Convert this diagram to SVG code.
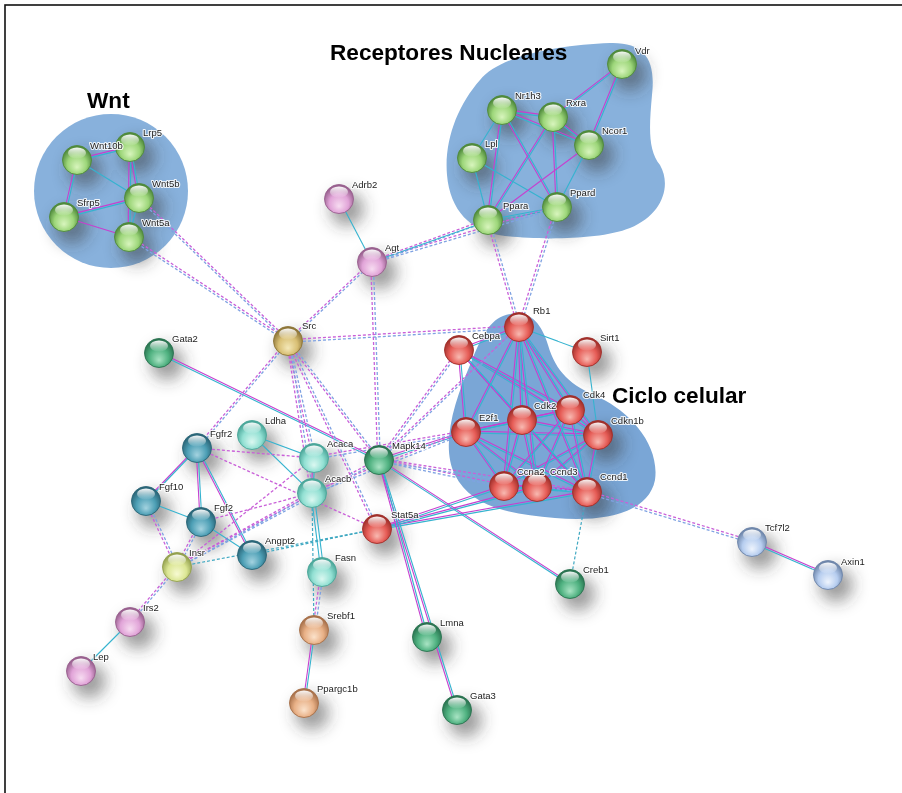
<svg xmlns="http://www.w3.org/2000/svg" width="902" height="793" viewBox="0 0 902 793">
<style>
  .lbl{font-family:"Liberation Sans",Arial,sans-serif;font-size:9.5px;fill:#222;stroke:#fff;stroke-width:2.2px;stroke-opacity:.85;paint-order:stroke;stroke-linejoin:round}
  .title{font-family:"Liberation Sans",Arial,sans-serif;font-size:22.6px;font-weight:bold;fill:#000}
  .ball{stroke-width:.9}
  .shine{fill:url(#shine)}
  .sh{fill:#3a3a3a;opacity:.5}
  .blob{fill:#88b1dc}
  .mg{stroke:#c640cf;stroke-width:1.1;fill:none}
  .cy{stroke:#35b3cf;stroke-width:1.1;fill:none}
  .dm{stroke:#c960d8;stroke-width:1.3;stroke-dasharray:3 2;fill:none}
  .db{stroke:#7fa2e2;stroke-width:1.3;stroke-dasharray:3 2;fill:none}
  .dt{stroke:#41a9c2;stroke-width:1.2;stroke-dasharray:3 2;fill:none}
</style>
<defs>
  <filter id="soft" x="-1" y="-1" width="3" height="3"><feGaussianBlur stdDeviation="8"/></filter>
  <linearGradient id="shine" x1="0" y1="0" x2="0" y2="1">
    <stop offset="0" stop-color="#fff" stop-opacity=".95"/>
    <stop offset="1" stop-color="#fff" stop-opacity=".05"/>
  </linearGradient>
  <radialGradient id="gGreen" cx=".5" cy=".6" r=".55" fx=".5" fy=".75"><stop offset="0" stop-color="#d8f5bd"/><stop offset=".6" stop-color="#9dd67a"/><stop offset="1" stop-color="#4f8a3b"/></radialGradient>
  <radialGradient id="gRed" cx=".5" cy=".6" r=".55" fx=".5" fy=".75"><stop offset="0" stop-color="#f8b9b1"/><stop offset=".6" stop-color="#e65d57"/><stop offset="1" stop-color="#a02f2a"/></radialGradient>
  <radialGradient id="gSea" cx=".5" cy=".6" r=".55" fx=".5" fy=".75"><stop offset="0" stop-color="#a9e4c4"/><stop offset=".6" stop-color="#4fb180"/><stop offset="1" stop-color="#2a7350"/></radialGradient>
  <radialGradient id="gAqua" cx=".5" cy=".6" r=".55" fx=".5" fy=".75"><stop offset="0" stop-color="#dbf8f1"/><stop offset=".6" stop-color="#92e0d3"/><stop offset="1" stop-color="#4aa699"/></radialGradient>
  <radialGradient id="gTeal" cx=".5" cy=".6" r=".55" fx=".5" fy=".75"><stop offset="0" stop-color="#a4d3e0"/><stop offset=".6" stop-color="#4d9fb5"/><stop offset="1" stop-color="#2a6577"/></radialGradient>
  <radialGradient id="gGold" cx=".5" cy=".6" r=".55" fx=".5" fy=".75"><stop offset="0" stop-color="#f4e8b8"/><stop offset=".6" stop-color="#d8bf74"/><stop offset="1" stop-color="#8d7538"/></radialGradient>
  <radialGradient id="gLime" cx=".5" cy=".6" r=".55" fx=".5" fy=".75"><stop offset="0" stop-color="#f7fad2"/><stop offset=".6" stop-color="#dbe694"/><stop offset="1" stop-color="#93a04e"/></radialGradient>
  <radialGradient id="gPink" cx=".5" cy=".6" r=".55" fx=".5" fy=".75"><stop offset="0" stop-color="#f7dcf1"/><stop offset=".6" stop-color="#e1a4d8"/><stop offset="1" stop-color="#98608e"/></radialGradient>
  <radialGradient id="gPeach" cx=".5" cy=".6" r=".55" fx=".5" fy=".75"><stop offset="0" stop-color="#fbe2cb"/><stop offset=".6" stop-color="#e8b086"/><stop offset="1" stop-color="#a7704a"/></radialGradient>
  <radialGradient id="gSky" cx=".5" cy=".6" r=".55" fx=".5" fy=".75"><stop offset="0" stop-color="#eef4fd"/><stop offset=".6" stop-color="#b6cdef"/><stop offset="1" stop-color="#6e86aa"/></radialGradient>

  <!-- edge geometry; colour and offset are applied where it is used -->
  <g id="solidH">
    <line x1="77" y1="160" x2="130" y2="147"/>
    <line x1="64" y1="217" x2="139" y2="198"/>
    <line x1="622" y1="64" x2="553" y2="117"/>
    <line x1="502" y1="110" x2="553" y2="117"/>
    <line x1="502" y1="110" x2="589" y2="145"/>
    <line x1="553" y1="117" x2="589" y2="145"/>
    <line x1="159" y1="353" x2="379" y2="460"/>
    <line x1="752" y1="542" x2="828" y2="575"/>
    <line x1="379" y1="460" x2="570" y2="584"/>
    <line x1="379" y1="460" x2="466" y2="432"/>
    <line x1="377" y1="529" x2="504" y2="486"/>
    <line x1="377" y1="529" x2="537" y2="487"/>
    <line x1="377" y1="529" x2="587" y2="492"/>
    <line x1="519" y1="327" x2="459" y2="350"/>
    <line x1="459" y1="350" x2="570" y2="410"/>
    <line x1="459" y1="350" x2="598" y2="435"/>
    <line x1="466" y1="432" x2="522" y2="420"/>
    <line x1="466" y1="432" x2="570" y2="410"/>
    <line x1="466" y1="432" x2="537" y2="487"/>
    <line x1="466" y1="432" x2="587" y2="492"/>
    <line x1="466" y1="432" x2="598" y2="435"/>
    <line x1="522" y1="420" x2="570" y2="410"/>
    <line x1="522" y1="420" x2="598" y2="435"/>
    <line x1="570" y1="410" x2="598" y2="435"/>
    <line x1="598" y1="435" x2="504" y2="486"/>
    <line x1="598" y1="435" x2="537" y2="487"/>
    <line x1="504" y1="486" x2="537" y2="487"/>
    <line x1="537" y1="487" x2="587" y2="492"/>
    <line x1="504" y1="486" x2="587" y2="492"/>
  </g>
  <g id="solidV">
    <line x1="130" y1="147" x2="139" y2="198"/>
    <line x1="130" y1="147" x2="129" y2="237"/>
    <line x1="77" y1="160" x2="64" y2="217"/>
    <line x1="622" y1="64" x2="589" y2="145"/>
    <line x1="502" y1="110" x2="488" y2="220"/>
    <line x1="502" y1="110" x2="557" y2="207"/>
    <line x1="553" y1="117" x2="488" y2="220"/>
    <line x1="553" y1="117" x2="557" y2="207"/>
    <line x1="314" y1="630" x2="304" y2="703"/>
    <line x1="379" y1="460" x2="427" y2="637"/>
    <line x1="379" y1="460" x2="457" y2="710"/>
    <line x1="197" y1="448" x2="146" y2="501"/>
    <line x1="197" y1="448" x2="201" y2="522"/>
    <line x1="197" y1="448" x2="252" y2="555"/>
    <line x1="314" y1="458" x2="312" y2="493"/>
    <line x1="519" y1="327" x2="466" y2="432"/>
    <line x1="519" y1="327" x2="522" y2="420"/>
    <line x1="519" y1="327" x2="570" y2="410"/>
    <line x1="519" y1="327" x2="598" y2="435"/>
    <line x1="519" y1="327" x2="504" y2="486"/>
    <line x1="519" y1="327" x2="537" y2="487"/>
    <line x1="519" y1="327" x2="587" y2="492"/>
    <line x1="459" y1="350" x2="466" y2="432"/>
    <line x1="459" y1="350" x2="522" y2="420"/>
    <line x1="459" y1="350" x2="587" y2="492"/>
    <line x1="466" y1="432" x2="504" y2="486"/>
    <line x1="522" y1="420" x2="504" y2="486"/>
    <line x1="522" y1="420" x2="537" y2="487"/>
    <line x1="522" y1="420" x2="587" y2="492"/>
    <line x1="570" y1="410" x2="587" y2="492"/>
    <line x1="570" y1="410" x2="537" y2="487"/>
    <line x1="570" y1="410" x2="504" y2="486"/>
    <line x1="598" y1="435" x2="587" y2="492"/>
  </g>
  <g id="dashH">
    <line x1="139" y1="198" x2="288" y2="341"/>
    <line x1="129" y1="237" x2="288" y2="341"/>
    <line x1="288" y1="341" x2="372" y2="262"/>
    <line x1="288" y1="341" x2="519" y2="327"/>
    <line x1="372" y1="262" x2="488" y2="220"/>
    <line x1="372" y1="262" x2="557" y2="207"/>
    <line x1="587" y1="492" x2="752" y2="542"/>
    <line x1="177" y1="567" x2="379" y2="460"/>
    <line x1="177" y1="567" x2="312" y2="493"/>
    <line x1="379" y1="460" x2="519" y2="327"/>
    <line x1="379" y1="460" x2="504" y2="486"/>
    <line x1="379" y1="460" x2="587" y2="492"/>
    <line x1="314" y1="458" x2="466" y2="432"/>
    <line x1="312" y1="493" x2="466" y2="432"/>
  </g>
  <g id="dashV">
    <line x1="288" y1="341" x2="197" y2="448"/>
    <line x1="288" y1="341" x2="314" y2="458"/>
    <line x1="288" y1="341" x2="312" y2="493"/>
    <line x1="288" y1="341" x2="379" y2="460"/>
    <line x1="288" y1="341" x2="377" y2="529"/>
    <line x1="372" y1="262" x2="379" y2="460"/>
    <line x1="488" y1="220" x2="519" y2="327"/>
    <line x1="557" y1="207" x2="519" y2="327"/>
    <line x1="177" y1="567" x2="130" y2="622"/>
    <line x1="146" y1="501" x2="177" y2="567"/>
    <line x1="201" y1="522" x2="177" y2="567"/>
    <line x1="379" y1="460" x2="459" y2="350"/>
    <line x1="322" y1="572" x2="314" y2="630"/>
  </g>
</defs>

<!-- frame -->
<rect x="5" y="5" width="1000" height="900" fill="#fff" stroke="#111" stroke-width="1.6"/>

<!-- cluster backgrounds -->
<g id="clusters">
  <circle id="cluster-wnt" class="blob" cx="111" cy="191" r="77"/>
  <path id="cluster-nuclear" class="blob" d="M480,80 C500,55 560,45 610,43 C645,42 656,60 652,95 C649,128 648,150 660,165 C672,186 662,215 630,228 C600,240 540,240 505,236 C470,232 450,210 447,175 C444,140 458,105 480,80 Z"/>
  <path id="cluster-cycle" class="blob" style="fill:#7aa6d6" d="M503,316 C525,308 540,318 548,345 C556,372 570,385 600,398 C630,412 660,445 655,480 C648,515 600,522 555,518 C505,514 470,505 455,475 C440,445 455,400 470,365 C480,340 488,322 503,316 Z"/>
</g>

<!-- soft cast shadows under the spheres -->
<g id="shadows" filter="url(#soft)">
  <circle class="sh" cx="85" cy="170" r="17"/><circle class="sh" cx="138" cy="157" r="17"/><circle class="sh" cx="147" cy="208" r="17"/><circle class="sh" cx="72" cy="227" r="17"/><circle class="sh" cx="137" cy="247" r="17"/>
  <circle class="sh" cx="630" cy="74" r="17"/><circle class="sh" cx="510" cy="120" r="17"/><circle class="sh" cx="561" cy="127" r="17"/><circle class="sh" cx="597" cy="155" r="17"/><circle class="sh" cx="480" cy="168" r="17"/><circle class="sh" cx="565" cy="217" r="17"/><circle class="sh" cx="496" cy="230" r="17"/>
  <circle class="sh" cx="347" cy="209" r="17"/><circle class="sh" cx="380" cy="272" r="17"/><circle class="sh" cx="296" cy="351" r="17"/><circle class="sh" cx="167" cy="363" r="17"/>
  <circle class="sh" cx="260" cy="445" r="17"/><circle class="sh" cx="205" cy="458" r="17"/><circle class="sh" cx="322" cy="468" r="17"/><circle class="sh" cx="320" cy="503" r="17"/><circle class="sh" cx="387" cy="470" r="17"/><circle class="sh" cx="385" cy="539" r="17"/>
  <circle class="sh" cx="154" cy="511" r="17"/><circle class="sh" cx="209" cy="532" r="17"/><circle class="sh" cx="260" cy="565" r="17"/><circle class="sh" cx="185" cy="577" r="17"/><circle class="sh" cx="330" cy="582" r="17"/>
  <circle class="sh" cx="138" cy="632" r="17"/><circle class="sh" cx="89" cy="681" r="17"/><circle class="sh" cx="322" cy="640" r="17"/><circle class="sh" cx="312" cy="713" r="17"/>
  <circle class="sh" cx="578" cy="594" r="17"/><circle class="sh" cx="435" cy="647" r="17"/><circle class="sh" cx="465" cy="720" r="17"/><circle class="sh" cx="760" cy="552" r="17"/><circle class="sh" cx="836" cy="585" r="17"/>
  <circle class="sh" cx="595" cy="362" r="17"/><circle class="sh" cx="606" cy="445" r="17"/><circle class="sh" cx="595" cy="502" r="17"/>
</g>

<!-- connectors -->
<g id="connectors">
  <use href="#solidH" class="mg" transform="translate(0,-0.9)"/>
  <use href="#solidH" class="cy" transform="translate(0,0.9)"/>
  <use href="#solidV" class="mg" transform="translate(-0.9,0)"/>
  <use href="#solidV" class="cy" transform="translate(0.9,0)"/>
  <use href="#dashH" class="dm" transform="translate(0,-1.3)"/>
  <use href="#dashH" class="db" transform="translate(0,1.3)"/>
  <use href="#dashV" class="dm" transform="translate(-1.3,0)"/>
  <use href="#dashV" class="db" transform="translate(1.3,0)"/>
  <g class="cy">
    <line x1="77" y1="160" x2="139" y2="198"/>
    <line x1="139" y1="198" x2="129" y2="237"/>
    <line x1="502" y1="110" x2="472" y2="158"/>
    <line x1="472" y1="158" x2="488" y2="220"/>
    <line x1="472" y1="158" x2="557" y2="207"/>
    <line x1="589" y1="145" x2="557" y2="207"/>
    <line x1="488" y1="220" x2="557" y2="207"/>
    <line x1="372" y1="262" x2="488" y2="221"/>
    <line x1="339" y1="199" x2="372" y2="262"/>
    <line x1="130" y1="622" x2="81" y2="671"/>
    <line x1="252" y1="435" x2="314" y2="458"/>
    <line x1="252" y1="435" x2="312" y2="493"/>
    <line x1="146" y1="501" x2="201" y2="522"/>
    <line x1="201" y1="522" x2="252" y2="555"/>
    <line x1="519" y1="327" x2="587" y2="352"/>
    <line x1="587" y1="352" x2="598" y2="435"/>
    <line x1="311" y1="493" x2="321" y2="572"/>
    <line x1="314" y1="493" x2="324" y2="572"/>
  </g>
  <g class="mg">
    <line x1="64" y1="217" x2="129" y2="237"/>
    <line x1="589" y1="145" x2="488" y2="220"/>
  </g>
  <g class="dt">
    <line x1="570" y1="584" x2="587" y2="492"/>
    <line x1="377" y1="529" x2="252" y2="555"/>
    <line x1="377" y1="529" x2="177" y2="567"/>
    <line x1="312" y1="493" x2="314" y2="630"/>
    <line x1="488" y1="222" x2="557" y2="209"/>
  </g>
  <g class="dm">
    <line x1="197" y1="448" x2="314" y2="458"/>
    <line x1="197" y1="448" x2="377" y2="529"/>
    <line x1="201" y1="522" x2="312" y2="493"/>
    <line x1="177" y1="567" x2="314" y2="458"/>
  </g>
</g>

<!-- titles -->
<text class="title" x="87" y="108">Wnt</text>
<text class="title" x="330" y="60">Receptores Nucleares</text>
<text class="title" x="612" y="403">Ciclo celular</text>

<!-- nodes -->
<g id="node-lrp5"><circle class="ball" cx="130" cy="147" r="14.5" fill="url(#gGreen)" stroke="#4f8a3b"/><ellipse class="shine" cx="130" cy="140" rx="9" ry="5.5"/><text class="lbl" x="143" y="136">Lrp5</text></g>
<g id="node-wnt10b"><circle class="ball" cx="77" cy="160" r="14.5" fill="url(#gGreen)" stroke="#4f8a3b"/><ellipse class="shine" cx="77" cy="153" rx="9" ry="5.5"/><text class="lbl" x="90" y="149">Wnt10b</text></g>
<g id="node-wnt5b"><circle class="ball" cx="139" cy="198" r="14.5" fill="url(#gGreen)" stroke="#4f8a3b"/><ellipse class="shine" cx="139" cy="191" rx="9" ry="5.5"/><text class="lbl" x="152" y="187">Wnt5b</text></g>
<g id="node-sfrp5"><circle class="ball" cx="64" cy="217" r="14.5" fill="url(#gGreen)" stroke="#4f8a3b"/><ellipse class="shine" cx="64" cy="210" rx="9" ry="5.5"/><text class="lbl" x="77" y="206">Sfrp5</text></g>
<g id="node-wnt5a"><circle class="ball" cx="129" cy="237" r="14.5" fill="url(#gGreen)" stroke="#4f8a3b"/><ellipse class="shine" cx="129" cy="230" rx="9" ry="5.5"/><text class="lbl" x="142" y="226">Wnt5a</text></g>

<g id="node-vdr"><circle class="ball" cx="622" cy="64" r="14.5" fill="url(#gGreen)" stroke="#4f8a3b"/><ellipse class="shine" cx="622" cy="57" rx="9" ry="5.5"/><text class="lbl" x="635" y="54">Vdr</text></g>
<g id="node-nr1h3"><circle class="ball" cx="502" cy="110" r="14.5" fill="url(#gGreen)" stroke="#4f8a3b"/><ellipse class="shine" cx="502" cy="103" rx="9" ry="5.5"/><text class="lbl" x="515" y="99">Nr1h3</text></g>
<g id="node-rxra"><circle class="ball" cx="553" cy="117" r="14.5" fill="url(#gGreen)" stroke="#4f8a3b"/><ellipse class="shine" cx="553" cy="110" rx="9" ry="5.5"/><text class="lbl" x="566" y="106">Rxra</text></g>
<g id="node-ncor1"><circle class="ball" cx="589" cy="145" r="14.5" fill="url(#gGreen)" stroke="#4f8a3b"/><ellipse class="shine" cx="589" cy="138" rx="9" ry="5.5"/><text class="lbl" x="602" y="134">Ncor1</text></g>
<g id="node-lpl"><circle class="ball" cx="472" cy="158" r="14.5" fill="url(#gGreen)" stroke="#4f8a3b"/><ellipse class="shine" cx="472" cy="151" rx="9" ry="5.5"/><text class="lbl" x="485" y="147">Lpl</text></g>
<g id="node-ppard"><circle class="ball" cx="557" cy="207" r="14.5" fill="url(#gGreen)" stroke="#4f8a3b"/><ellipse class="shine" cx="557" cy="200" rx="9" ry="5.5"/><text class="lbl" x="570" y="196">Ppard</text></g>
<g id="node-ppara"><circle class="ball" cx="488" cy="220" r="14.5" fill="url(#gGreen)" stroke="#4f8a3b"/><ellipse class="shine" cx="488" cy="213" rx="9" ry="5.5"/><text class="lbl" x="503" y="209">Ppara</text></g>

<g id="node-adrb2"><circle class="ball" cx="339" cy="199" r="14.5" fill="url(#gPink)" stroke="#98608e"/><ellipse class="shine" cx="339" cy="192" rx="9" ry="5.5"/><text class="lbl" x="352" y="188">Adrb2</text></g>
<g id="node-agt"><circle class="ball" cx="372" cy="262" r="14.5" fill="url(#gPink)" stroke="#98608e"/><ellipse class="shine" cx="372" cy="255" rx="9" ry="5.5"/><text class="lbl" x="385" y="251">Agt</text></g>
<g id="node-src"><circle class="ball" cx="288" cy="341" r="14.5" fill="url(#gGold)" stroke="#8d7538"/><ellipse class="shine" cx="288" cy="334" rx="9" ry="5.5"/><text class="lbl" x="302" y="329">Src</text></g>
<g id="node-gata2"><circle class="ball" cx="159" cy="353" r="14.5" fill="url(#gSea)" stroke="#2a7350"/><ellipse class="shine" cx="159" cy="346" rx="9" ry="5.5"/><text class="lbl" x="172" y="342">Gata2</text></g>

<g id="node-ldha"><circle class="ball" cx="252" cy="435" r="14.5" fill="url(#gAqua)" stroke="#4aa699"/><ellipse class="shine" cx="252" cy="428" rx="9" ry="5.5"/><text class="lbl" x="265" y="424">Ldha</text></g>
<g id="node-fgfr2"><circle class="ball" cx="197" cy="448" r="14.5" fill="url(#gTeal)" stroke="#2a6577"/><ellipse class="shine" cx="197" cy="441" rx="9" ry="5.5"/><text class="lbl" x="210" y="437">Fgfr2</text></g>
<g id="node-acaca"><circle class="ball" cx="314" cy="458" r="14.5" fill="url(#gAqua)" stroke="#4aa699"/><ellipse class="shine" cx="314" cy="451" rx="9" ry="5.5"/><text class="lbl" x="327" y="447">Acaca</text></g>
<g id="node-acacb"><circle class="ball" cx="312" cy="493" r="14.5" fill="url(#gAqua)" stroke="#4aa699"/><ellipse class="shine" cx="312" cy="486" rx="9" ry="5.5"/><text class="lbl" x="325" y="482">Acacb</text></g>
<g id="node-mapk14"><circle class="ball" cx="379" cy="460" r="14.5" fill="url(#gSea)" stroke="#2a7350"/><ellipse class="shine" cx="379" cy="453" rx="9" ry="5.5"/><text class="lbl" x="392" y="449">Mapk14</text></g>
<g id="node-stat5a"><circle class="ball" cx="377" cy="529" r="14.5" fill="url(#gRed)" stroke="#a02f2a"/><ellipse class="shine" cx="377" cy="522" rx="9" ry="5.5"/><text class="lbl" x="391" y="518">Stat5a</text></g>
<g id="node-fgf10"><circle class="ball" cx="146" cy="501" r="14.5" fill="url(#gTeal)" stroke="#2a6577"/><ellipse class="shine" cx="146" cy="494" rx="9" ry="5.5"/><text class="lbl" x="159" y="490">Fgf10</text></g>
<g id="node-fgf2"><circle class="ball" cx="201" cy="522" r="14.5" fill="url(#gTeal)" stroke="#2a6577"/><ellipse class="shine" cx="201" cy="515" rx="9" ry="5.5"/><text class="lbl" x="214" y="511">Fgf2</text></g>
<g id="node-angpt2"><circle class="ball" cx="252" cy="555" r="14.5" fill="url(#gTeal)" stroke="#2a6577"/><ellipse class="shine" cx="252" cy="548" rx="9" ry="5.5"/><text class="lbl" x="265" y="544">Angpt2</text></g>
<g id="node-insr"><circle class="ball" cx="177" cy="567" r="14.5" fill="url(#gLime)" stroke="#93a04e"/><ellipse class="shine" cx="177" cy="560" rx="9" ry="5.5"/><text class="lbl" x="189" y="556">Insr</text></g>
<g id="node-fasn"><circle class="ball" cx="322" cy="572" r="14.5" fill="url(#gAqua)" stroke="#4aa699"/><ellipse class="shine" cx="322" cy="565" rx="9" ry="5.5"/><text class="lbl" x="335" y="561">Fasn</text></g>
<g id="node-irs2"><circle class="ball" cx="130" cy="622" r="14.5" fill="url(#gPink)" stroke="#98608e"/><ellipse class="shine" cx="130" cy="615" rx="9" ry="5.5"/><text class="lbl" x="143" y="611">Irs2</text></g>
<g id="node-lep"><circle class="ball" cx="81" cy="671" r="14.5" fill="url(#gPink)" stroke="#98608e"/><ellipse class="shine" cx="81" cy="664" rx="9" ry="5.5"/><text class="lbl" x="93" y="660">Lep</text></g>
<g id="node-srebf1"><circle class="ball" cx="314" cy="630" r="14.5" fill="url(#gPeach)" stroke="#a7704a"/><ellipse class="shine" cx="314" cy="623" rx="9" ry="5.5"/><text class="lbl" x="327" y="619">Srebf1</text></g>
<g id="node-ppargc1b"><circle class="ball" cx="304" cy="703" r="14.5" fill="url(#gPeach)" stroke="#a7704a"/><ellipse class="shine" cx="304" cy="696" rx="9" ry="5.5"/><text class="lbl" x="317" y="692">Ppargc1b</text></g>

<g id="node-rb1"><circle class="ball" cx="519" cy="327" r="14.5" fill="url(#gRed)" stroke="#a02f2a"/><ellipse class="shine" cx="519" cy="320" rx="9" ry="5.5"/><text class="lbl" x="533" y="314">Rb1</text></g>
<g id="node-cebpa"><circle class="ball" cx="459" cy="350" r="14.5" fill="url(#gRed)" stroke="#a02f2a"/><ellipse class="shine" cx="459" cy="343" rx="9" ry="5.5"/><text class="lbl" x="472" y="339">Cebpa</text></g>
<g id="node-sirt1"><circle class="ball" cx="587" cy="352" r="14.5" fill="url(#gRed)" stroke="#a02f2a"/><ellipse class="shine" cx="587" cy="345" rx="9" ry="5.5"/><text class="lbl" x="600" y="341">Sirt1</text></g>
<g id="node-cdk4"><circle class="ball" cx="570" cy="410" r="14.5" fill="url(#gRed)" stroke="#a02f2a"/><ellipse class="shine" cx="570" cy="403" rx="9" ry="5.5"/><text class="lbl" x="583" y="398">Cdk4</text></g>
<g id="node-cdk2"><circle class="ball" cx="522" cy="420" r="14.5" fill="url(#gRed)" stroke="#a02f2a"/><ellipse class="shine" cx="522" cy="413" rx="9" ry="5.5"/><text class="lbl" x="534" y="409">Cdk2</text></g>
<g id="node-e2f1"><circle class="ball" cx="466" cy="432" r="14.5" fill="url(#gRed)" stroke="#a02f2a"/><ellipse class="shine" cx="466" cy="425" rx="9" ry="5.5"/><text class="lbl" x="479" y="421">E2f1</text></g>
<g id="node-cdkn1b"><circle class="ball" cx="598" cy="435" r="14.5" fill="url(#gRed)" stroke="#a02f2a"/><ellipse class="shine" cx="598" cy="428" rx="9" ry="5.5"/><text class="lbl" x="611" y="424">Cdkn1b</text></g>
<g id="node-ccnd1"><circle class="ball" cx="587" cy="492" r="14.5" fill="url(#gRed)" stroke="#a02f2a"/><ellipse class="shine" cx="587" cy="485" rx="9" ry="5.5"/><text class="lbl" x="600" y="480">Ccnd1</text></g>
<g id="node-ccnd3"><circle class="ball" cx="537" cy="487" r="14.5" fill="url(#gRed)" stroke="#a02f2a"/><ellipse class="shine" cx="537" cy="480" rx="9" ry="5.5"/><text class="lbl" x="550" y="475">Ccnd3</text></g>
<g id="node-ccna2"><circle class="ball" cx="504" cy="486" r="14.5" fill="url(#gRed)" stroke="#a02f2a"/><ellipse class="shine" cx="504" cy="479" rx="9" ry="5.5"/><text class="lbl" x="517" y="475">Ccna2</text></g>

<g id="node-creb1"><circle class="ball" cx="570" cy="584" r="14.5" fill="url(#gSea)" stroke="#2a7350"/><ellipse class="shine" cx="570" cy="577" rx="9" ry="5.5"/><text class="lbl" x="583" y="573">Creb1</text></g>
<g id="node-lmna"><circle class="ball" cx="427" cy="637" r="14.5" fill="url(#gSea)" stroke="#2a7350"/><ellipse class="shine" cx="427" cy="630" rx="9" ry="5.5"/><text class="lbl" x="440" y="626">Lmna</text></g>
<g id="node-gata3"><circle class="ball" cx="457" cy="710" r="14.5" fill="url(#gSea)" stroke="#2a7350"/><ellipse class="shine" cx="457" cy="703" rx="9" ry="5.5"/><text class="lbl" x="470" y="699">Gata3</text></g>
<g id="node-tcf7l2"><circle class="ball" cx="752" cy="542" r="14.5" fill="url(#gSky)" stroke="#6e86aa"/><ellipse class="shine" cx="752" cy="535" rx="9" ry="5.5"/><text class="lbl" x="765" y="531">Tcf7l2</text></g>
<g id="node-axin1"><circle class="ball" cx="828" cy="575" r="14.5" fill="url(#gSky)" stroke="#6e86aa"/><ellipse class="shine" cx="828" cy="568" rx="9" ry="5.5"/><text class="lbl" x="841" y="565">Axin1</text></g>
</svg>
